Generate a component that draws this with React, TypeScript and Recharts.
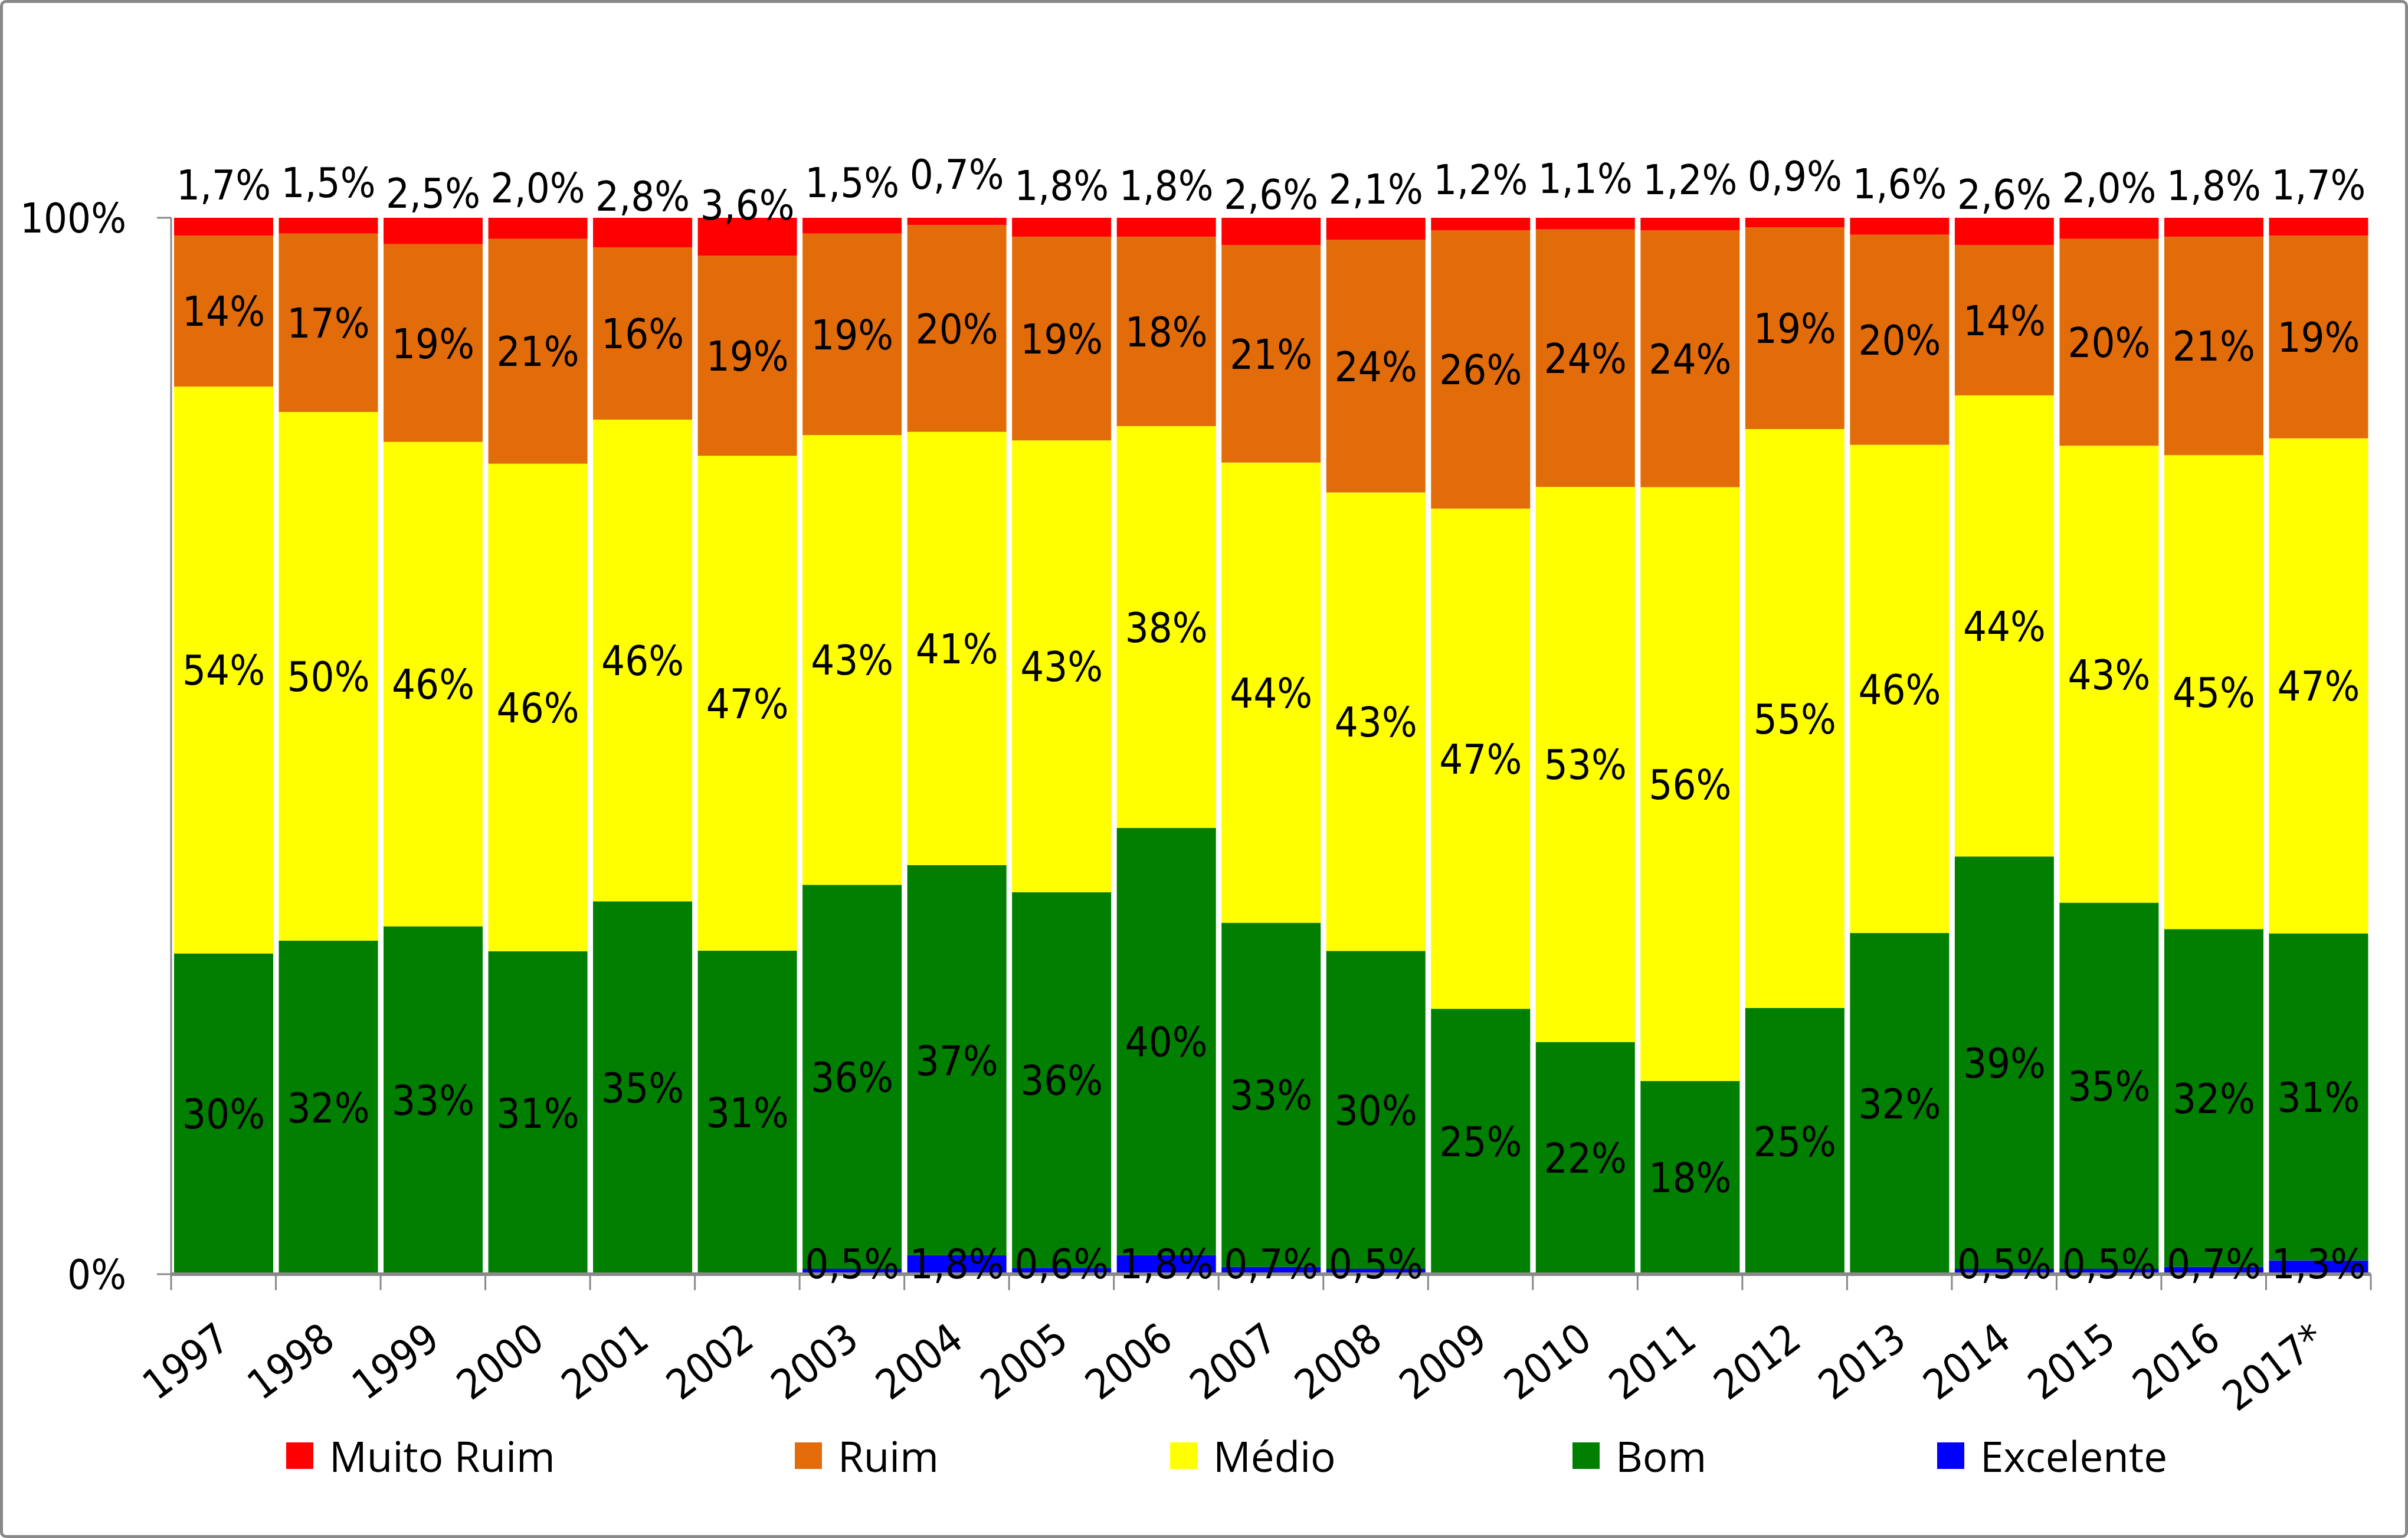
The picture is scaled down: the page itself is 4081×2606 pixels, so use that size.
import React from 'react';
import { BarChart, Bar, XAxis, YAxis, Legend, LabelList } from 'recharts';

// ---------- data ----------
const years = ['1997', '1998', '1999', '2000', '2001', '2002', '2003', '2004', '2005', '2006', '2007', '2008', '2009', '2010', '2011', '2012', '2013', '2014', '2015', '2016', '2017*'];
const muitoRuim = [1.7, 1.5, 2.5, 2.0, 2.8, 3.6, 1.5, 0.7, 1.8, 1.8, 2.6, 2.1, 1.2, 1.1, 1.2, 0.9, 1.6, 2.6, 2.0, 1.8, 1.7];
const ruim = [14.3, 16.9, 18.7, 21.3, 16.3, 18.9, 19.1, 19.6, 19.3, 17.9, 20.6, 23.9, 26.3, 24.4, 24.3, 19.1, 19.9, 14.2, 19.6, 20.7, 19.2];
const medio = [53.7, 50.1, 45.8, 46.2, 45.6, 46.8, 42.6, 41.1, 42.8, 38.0, 43.6, 43.4, 47.3, 52.6, 56.2, 54.8, 46.2, 43.6, 43.3, 44.9, 46.9];
const bom = [30.4, 31.6, 32.9, 30.6, 35.3, 30.6, 36.4, 37.0, 35.6, 40.4, 32.6, 30.1, 25.1, 22.0, 18.3, 25.2, 32.3, 39.0, 34.7, 32.0, 31.0];
const excelente = [0, 0, 0, 0, 0, 0, 0.5, 1.8, 0.6, 1.8, 0.7, 0.5, 0, 0, 0, 0, 0, 0.5, 0.5, 0.7, 1.3];
const yTicks = [0, 1];

const legendOrder = ['Muito Ruim', 'Ruim', 'Médio', 'Bom', 'Excelente'];
const colors: Record<string, string> = {
  'Muito Ruim': '#FF0000',
  Ruim: '#E36C0A',
  'Médio': '#FFFF00',
  Bom: '#007F00',
  Excelente: '#0000FF',
};

const data = years.map((year, i) => ({
  year,
  Excelente: excelente[i],
  Bom: bom[i],
  'Médio': medio[i],
  Ruim: ruim[i],
  'Muito Ruim': muitoRuim[i],
}));

// ---------- styles ----------
const FONT = "'DejaVu Sans Condensed', 'DejaVu Sans', sans-serif";
const LEGEND_FONT = "'Open Sans', 'Noto Sans', sans-serif";
const FS = 70;
const AXIS = '#898989';
const W = 4081;
const H = 2606;
const B = 5;
// legend marker left edges (page px) as laid out in the original
const LEGEND_SLOTS = [485, 1347, 1983, 2665, 3283];

const fmtInt = (v: number) => `${Math.round(v)}%`;
const fmtDec = (v: number) => `${v.toFixed(1).replace('.', ',')}%`;

type Kind = 'center' | 'top' | 'bottom';

const makeLabel = (arr: number[], kind: Kind, fmt: (v: number) => string) => (props: any) => {
  const vb = props.viewBox && props.viewBox.width !== undefined ? props.viewBox : props;
  const x = Number(vb.x);
  const y = Number(vb.y);
  const w = Number(vb.width);
  const h = Number(vb.height);
  const raw = typeof props.value === 'number' ? props.value : arr[props.index];
  if (raw == null || raw === 0 || !isFinite(x) || !isFinite(y)) return null;
  const top = Math.min(y, y + h);
  const bottom = Math.max(y, y + h);
  const cx = x + w / 2;
  let cy = (top + bottom) / 2;
  if (kind === 'top') cy = bottom - 87;
  if (kind === 'bottom') cy = bottom - 18;
  return (
    <text x={cx} y={cy} dy="0.36em" textAnchor="middle" fontSize={FS} fill="#000" fontFamily={FONT}>
      {fmt(raw)}
    </text>
  );
};

const XTick = (props: any) => {
  const { x, y, payload, index } = props;
  const half = payload && payload.offset > 0 ? payload.offset : 88.76;
  const tx = x + 15;
  const ty = y + 119;
  return (
    <g>
      <line x1={x - half} x2={x - half} y1={y} y2={y + 27} stroke={AXIS} strokeWidth={3} />
      {index === years.length - 1 && (
        <line x1={x + half} x2={x + half} y1={y} y2={y + 27} stroke={AXIS} strokeWidth={3} />
      )}
      <text
        x={tx}
        y={ty}
        textAnchor="end"
        transform={`rotate(-37 ${tx} ${ty})`}
        fontSize={FS}
        fill="#000"
        fontFamily={FONT}
      >
        {payload.value}
      </text>
    </g>
  );
};

const LegendContent = () => (
  <div
    style={{
      position: 'relative',
      height: 90,
      fontFamily: LEGEND_FONT,
      fontSize: 71,
      color: '#000',
      whiteSpace: 'nowrap',
    }}
  >
    {legendOrder.map((name, i) => (
      <div
        key={name}
        style={{
          position: 'absolute',
          left: LEGEND_SLOTS[i] - B,
          top: 0,
          height: 90,
          display: 'flex',
          alignItems: 'center',
        }}
      >
        <div style={{ width: 46, height: 45, background: colors[name], marginRight: 27 }} />
        <span>{name}</span>
      </div>
    ))}
  </div>
);

export default function App() {
  return (
    <div
      style={{
        position: 'absolute',
        left: 0,
        top: 0,
        width: W,
        height: H,
        boxSizing: 'border-box',
        border: `${B}px solid ${AXIS}`,
        borderRadius: 10,
        background: '#fff',
        fontFamily: FONT,
        overflow: 'hidden',
      }}
    >
      <BarChart
        width={W - 2 * B}
        height={H - 2 * B}
        data={data}
        stackOffset="expand"
        barCategoryGap={5}
        margin={{ top: 364, right: 58, bottom: 142, left: 0 }}
      >
        <XAxis
          dataKey="year"
          interval={0}
          height={300}
          tickSize={0}
          tickMargin={0}
          tickLine={false}
          axisLine={{ stroke: AXIS, strokeWidth: 6 }}
          tick={<XTick />}
        />
        <YAxis
          type="number"
          domain={[0, 1]}
          ticks={yTicks}
          tickFormatter={(v: number) => `${Math.round(v * 100)}%`}
          width={285}
          tickSize={24}
          tickMargin={52}
          axisLine={{ stroke: AXIS, strokeWidth: 3 }}
          tickLine={{ stroke: AXIS, strokeWidth: 3 }}
          tick={{ fontSize: FS, fill: '#000', fontFamily: FONT }}
        />
        <Legend
          layout="horizontal"
          verticalAlign="middle"
          align="center"
          wrapperStyle={{ top: 2466 - B - 45, left: 0, width: W - 2 * B, height: 90 }}
          content={<LegendContent />}
        />
        <Bar dataKey="Excelente" stackId="a" fill={colors.Excelente} isAnimationActive={false}>
          <LabelList dataKey="Excelente" content={makeLabel(excelente, 'bottom', fmtDec)} />
        </Bar>
        <Bar dataKey="Bom" stackId="a" fill={colors.Bom} isAnimationActive={false}>
          <LabelList dataKey="Bom" content={makeLabel(bom, 'center', fmtInt)} />
        </Bar>
        <Bar dataKey="Médio" stackId="a" fill={colors['Médio']} isAnimationActive={false}>
          <LabelList dataKey="Médio" content={makeLabel(medio, 'center', fmtInt)} />
        </Bar>
        <Bar dataKey="Ruim" stackId="a" fill={colors.Ruim} isAnimationActive={false}>
          <LabelList dataKey="Ruim" content={makeLabel(ruim, 'center', fmtInt)} />
        </Bar>
        <Bar dataKey="Muito Ruim" stackId="a" fill={colors['Muito Ruim']} isAnimationActive={false}>
          <LabelList dataKey="Muito Ruim" content={makeLabel(muitoRuim, 'top', fmtDec)} />
        </Bar>
      </BarChart>
    </div>
  );
}
